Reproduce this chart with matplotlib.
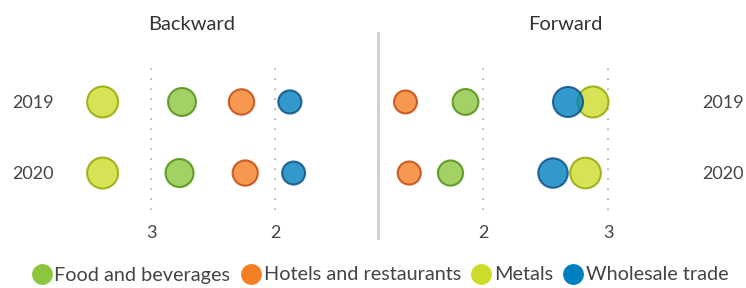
import matplotlib.pyplot as plt
from matplotlib.lines import Line2D

plt.rcParams['font.family'] = ['Lato', 'DejaVu Sans']

years = ['2019', '2020']
sectors = ['Food and beverages', 'Hotels and restaurants', 'Metals', 'Wholesale trade']
face = ['#8cc63f', '#f47f24', '#cddc29', '#0080bf']
edge = ['#4a8c0c', '#c0440b', '#8fa400', '#0a4a80']

# values per sector, one entry per year (2019, 2020)
backward = {
    'Food and beverages': [2.75, 2.77],
    'Hotels and restaurants': [2.27, 2.24],
    'Metals': [3.39, 3.39],
    'Wholesale trade': [1.88, 1.85],
}
forward = {
    'Food and beverages': [1.86, 1.74],
    'Hotels and restaurants': [1.38, 1.41],
    'Metals': [2.88, 2.82],
    'Wholesale trade': [2.68, 2.56],
}

W, H = 746, 288
fig = plt.figure(figsize=(W / 100, H / 100), dpi=100)


def px_box(x0, y0, x1, y1):
    return [x0 / W, 1 - y1 / H, (x1 - x0) / W, (y1 - y0) / H]


axL = fig.add_axes(px_box(70, 65, 370, 210))
axR = fig.add_axes(px_box(385, 65, 690, 210))

txt = '#444444'
for ax, data, lim in [(axL, backward, (3.653, 1.234)), (axR, forward, (1.216, 3.656))]:
    allv = [v for s in sectors for v in data[s]]
    vmin, vmax = min(allv), max(allv)
    for i, s in enumerate(sectors):
        vals = data[s]
        sizes = [274 + 224 * (v - vmin) / (vmax - vmin) for v in vals]
        ax.scatter(vals, [0, 1], s=sizes, c=face[i], alpha=0.8,
                   edgecolors=edge[i], linewidths=1.5, zorder=3, clip_on=False)
    ax.set_xlim(*lim)
    ax.set_ylim(1.52, -0.52)
    ax.set_xticks([2, 3])
    ax.set_xticklabels(['2', '3'])
    ax.set_yticks([])
    ax.tick_params(axis='x', length=0, pad=11, labelsize=13, labelcolor=txt)
    for sp in ax.spines.values():
        sp.set_visible(False)
    for v in [2, 3]:
        ax.axvline(v, color='#aaaaaa', lw=1.2, ls=(0, (1, 5)), zorder=1)
    ax.patch.set_alpha(0)

# titles and year labels
fig.text(192 / W, 1 - 25 / H, 'Backward', ha='center', va='center', fontsize=14.5, color='#333333')
fig.text(565 / W, 1 - 25 / H, 'Forward', ha='center', va='center', fontsize=14.5, color='#333333')
for yr, ypx in zip(years, [103, 174]):
    fig.text(54 / W, 1 - ypx / H, yr, ha='right', va='center', fontsize=13, color=txt)
    fig.text(702 / W, 1 - ypx / H, yr, ha='left', va='center', fontsize=13, color=txt)

# divider
fig.add_artist(Line2D([378 / W, 378 / W], [1 - 33 / H, 1 - 238 / H], color='#cccccc', lw=2))

handles = [Line2D([], [], marker='o', ls='none', markersize=15, markerfacecolor=face[i],
                  markeredgewidth=0) for i in range(len(sectors))]
fig.legend(handles, sectors, loc='center', bbox_to_anchor=(380 / W, 1 - 275 / H), ncol=4,
           frameon=False, handletextpad=0.12, columnspacing=0.5, handlelength=1.05,
           fontsize=14.3, labelcolor=txt, borderaxespad=0, borderpad=0)

fig.savefig('out.png', dpi=100)
